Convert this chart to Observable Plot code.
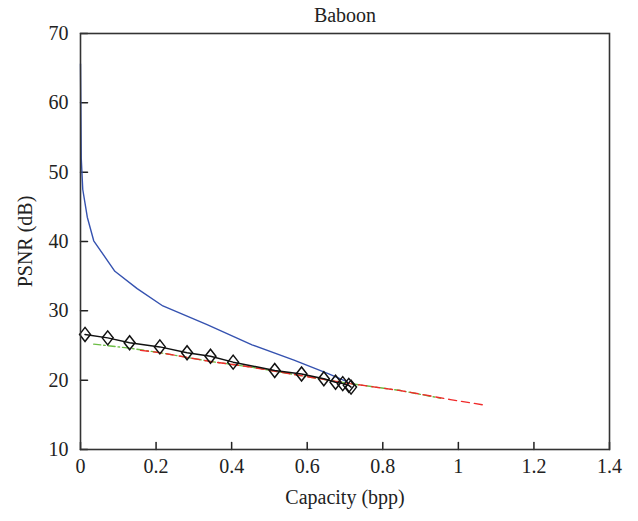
<!DOCTYPE html>
<html>
<head>
<meta charset="utf-8">
<script src="https://cdn.jsdelivr.net/npm/d3@7"></script>
<script src="https://cdn.jsdelivr.net/npm/@observablehq/plot@0.6"></script>
<style>
  body { margin: 0; background: #fff; }
  svg { display: block; }
</style>
</head>
<body>
<div id="chart"></div>
<script>
// ---- data ----
const title = "Baboon";
const xLabel = "Capacity (bpp)";
const yLabel = "PSNR (dB)";
const xTicks = [0, 0.2, 0.4, 0.6, 0.8, 1, 1.2, 1.4];
const yTicks = [10, 20, 30, 40, 50, 60, 70];

// blue solid curve
const blueX = [0, 0.002, 0.006, 0.018, 0.035, 0.091, 0.150, 0.218, 0.335, 0.454, 0.565, 0.657, 0.705];
const blueY = [65.6, 52.0, 47.5, 43.5, 40.1, 35.7, 33.2, 30.7, 28.0, 25.1, 22.9, 20.9, 19.8];

// black line with open diamonds
const diaX = [0.012, 0.072, 0.130, 0.210, 0.282, 0.344, 0.404, 0.514, 0.585, 0.644, 0.675, 0.694, 0.710, 0.716];
const diaY = [26.6, 26.1, 25.4, 24.8, 23.95, 23.45, 22.6, 21.4, 20.9, 20.2, 19.7, 19.5, 19.25, 19.0];

// green dash-dot
const greenX = [0.035, 0.132, 0.207, 0.344, 0.450, 0.503, 0.600, 0.714, 0.847, 0.953];
const greenY = [25.2, 24.6, 24.0, 22.7, 21.9, 21.4, 20.5, 19.5, 18.5, 17.4];

// red dashed
const redX = [0.159, 0.207, 0.344, 0.450, 0.503, 0.600, 0.714, 0.847, 0.979, 1.076];
const redY = [24.3, 24.0, 22.7, 21.9, 21.4, 20.5, 19.5, 18.5, 17.2, 16.35];

const zip = (xs, ys) => xs.map((x, i) => ({x, y: ys[i]}));
const blue = zip(blueX, blueY);
const dia = zip(diaX, diaY);
const green = zip(greenX, greenY);
const red = zip(redX, redY);

const tallDiamond = {
  draw(context, size) {
    const r = Math.sqrt(size / Math.PI);
    const w = r * 0.78;
    context.moveTo(0, -r);
    context.lineTo(w, 0);
    context.lineTo(0, r);
    context.lineTo(-w, 0);
    context.closePath();
  }
};
const tickShape = {
  draw(context, l) {
    context.moveTo(0, 0);
    context.lineTo(0, -l);
  }
};

const font = "'Liberation Serif', 'DejaVu Serif', serif";
const fs = 20;

const chart = Plot.plot({
  width: 638,
  height: 521,
  marginLeft: 80,
  marginRight: 29,
  marginTop: 33,
  marginBottom: 72,
  style: {fontFamily: font, fontSize: fs + "px", color: "#222", background: "#fff"},
  x: {domain: [0, 1.4]},
  y: {domain: [10, 70]},
  marks: [
    Plot.axisX({ticks: xTicks, tickSize: 0, tickPadding: 9, tickFormat: d => String(d), label: null, fontSize: fs, fill: "#222"}),
    Plot.axisY({ticks: yTicks, tickSize: 0, tickPadding: 12, tickFormat: d => String(d), label: null, fontSize: fs, fill: "#222"}),
    Plot.vector(xTicks, {x: d => d, frameAnchor: "bottom", length: 7, rotate: 0, anchor: "start", shape: tickShape, stroke: "#222", strokeWidth: 1.5}),
    Plot.vector(yTicks, {y: d => d, frameAnchor: "left", length: 7, rotate: 90, anchor: "start", shape: tickShape, stroke: "#222", strokeWidth: 1.5}),
    Plot.line(green, {x: "x", y: "y", stroke: "#6cbd45", strokeWidth: 1.4, strokeDasharray: "7,3,1.5,3"}),
    Plot.line(red, {x: "x", y: "y", stroke: "#f02a2a", strokeWidth: 1.4, strokeDasharray: "8,5"}),
    Plot.line(blue, {x: "x", y: "y", stroke: "#3552b0", strokeWidth: 1.4}),
    Plot.line(dia, {x: "x", y: "y", stroke: "#111", strokeWidth: 1.5}),
    Plot.dot(dia, {x: "x", y: "y", symbol: tallDiamond, r: 7, stroke: "#111", strokeWidth: 1.5, fill: "none"}),
    Plot.frame({stroke: "#333", strokeWidth: 1.6}),
    Plot.text([title], {text: d => d, frameAnchor: "top", textAnchor: "middle", lineAnchor: "middle", dy: -18, fontSize: fs, fill: "#222"}),
    Plot.text([xLabel], {text: d => d, frameAnchor: "bottom", textAnchor: "middle", lineAnchor: "middle", dy: 48, fontSize: fs, fill: "#222"}),
    Plot.text([yLabel], {text: d => d, frameAnchor: "left", textAnchor: "middle", lineAnchor: "middle", dx: -55, rotate: -90, fontSize: fs, fill: "#222"})
  ]
});
document.getElementById("chart").appendChild(chart);
</script>
</body>
</html>
